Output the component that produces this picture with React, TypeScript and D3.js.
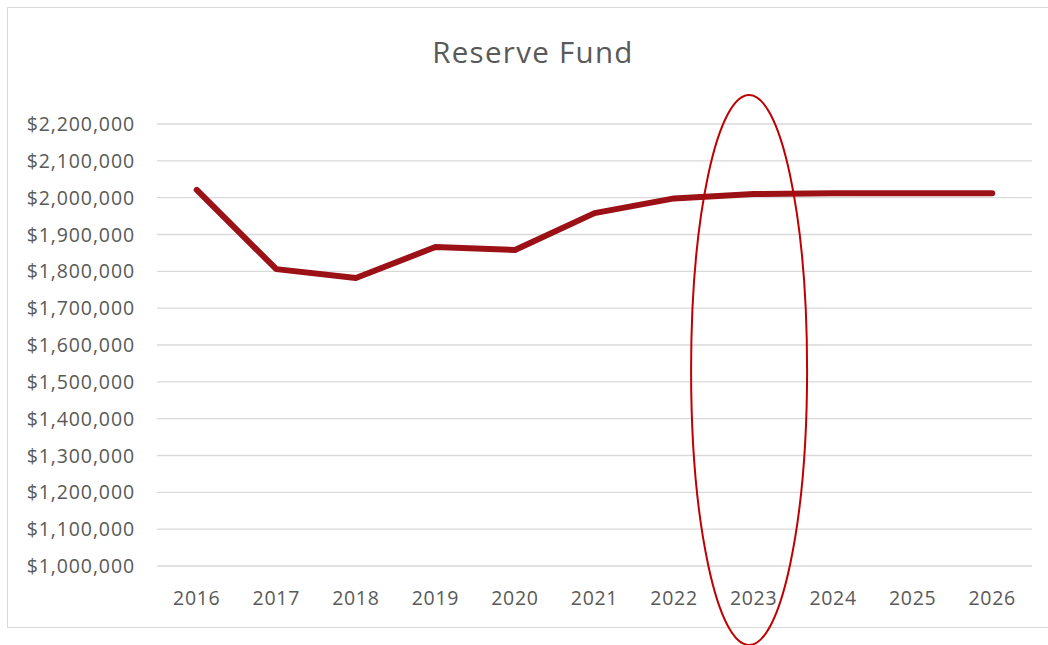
import React from "react";
import * as d3 from "d3";

const years = ["2016","2017","2018","2019","2020","2021","2022","2023","2024","2025","2026"];
const reserve = [2021000, 1806000, 1782000, 1866000, 1858000, 1958000, 1998000, 2010000, 2012000, 2012000, 2012000];
const yTicks = [1000000,1100000,1200000,1300000,1400000,1500000,1600000,1700000,1800000,1900000,2000000,2100000,2200000];
const highlightYear = "2023";

const W = 1048, H = 645;
const left = 157, right = 1032, top = 124, bottom = 566;

export default function App() {
  const x = d3.scaleBand<string>().domain(years).range([left, right]);
  const y = d3.scaleLinear().domain([1000000, 2200000]).range([bottom, top]);
  const fmt = (v: number) => "$" + d3.format(",")(v);
  const line = d3.line<number>()
    .x((_, i) => (x(years[i]) as number) + x.bandwidth() / 2)
    .y(d => y(d));
  const cx = (x(highlightYear) as number) + x.bandwidth() / 2 - 4.5;
  const font = "'Open Sans', 'Liberation Sans', sans-serif";
  return (
    <svg width={W} height={H} style={{ position: "fixed", left: 0, top: 0, background: "#fff" }}>
      <rect x={7.5} y={7.5} width={W + 10} height={620} fill="#fff" stroke="#d9d9d9" strokeWidth={1} />
      <text x={533} y={63} textAnchor="middle" fontFamily={font} fontSize={29.5} letterSpacing={1.3} fill="#595959">Reserve Fund</text>
      {yTicks.map(t => (
        <g key={t}>
          <line x1={left} x2={right} y1={y(t)} y2={y(t)} stroke="#d9d9d9" strokeWidth={1.3} />
          <text x={135} y={y(t)} dy="0.36em" textAnchor="end" fontFamily={font} fontSize={19.5} letterSpacing={0.9} fill="#595959">{fmt(t)}</text>
        </g>
      ))}
      {years.map(yr => (
        <text key={yr} x={(x(yr) as number) + x.bandwidth() / 2} y={605} textAnchor="middle" fontFamily={font} fontSize={19.5} letterSpacing={0.7} fill="#595959">{yr}</text>
      ))}
      <path d={line(reserve) || ""} fill="none" stroke="#9b1116" strokeWidth={6} strokeLinejoin="round" strokeLinecap="round" />
      <ellipse cx={cx} cy={370} rx={58} ry={275} fill="none" stroke="#c00000" strokeWidth={2} />
    </svg>
  );
}
